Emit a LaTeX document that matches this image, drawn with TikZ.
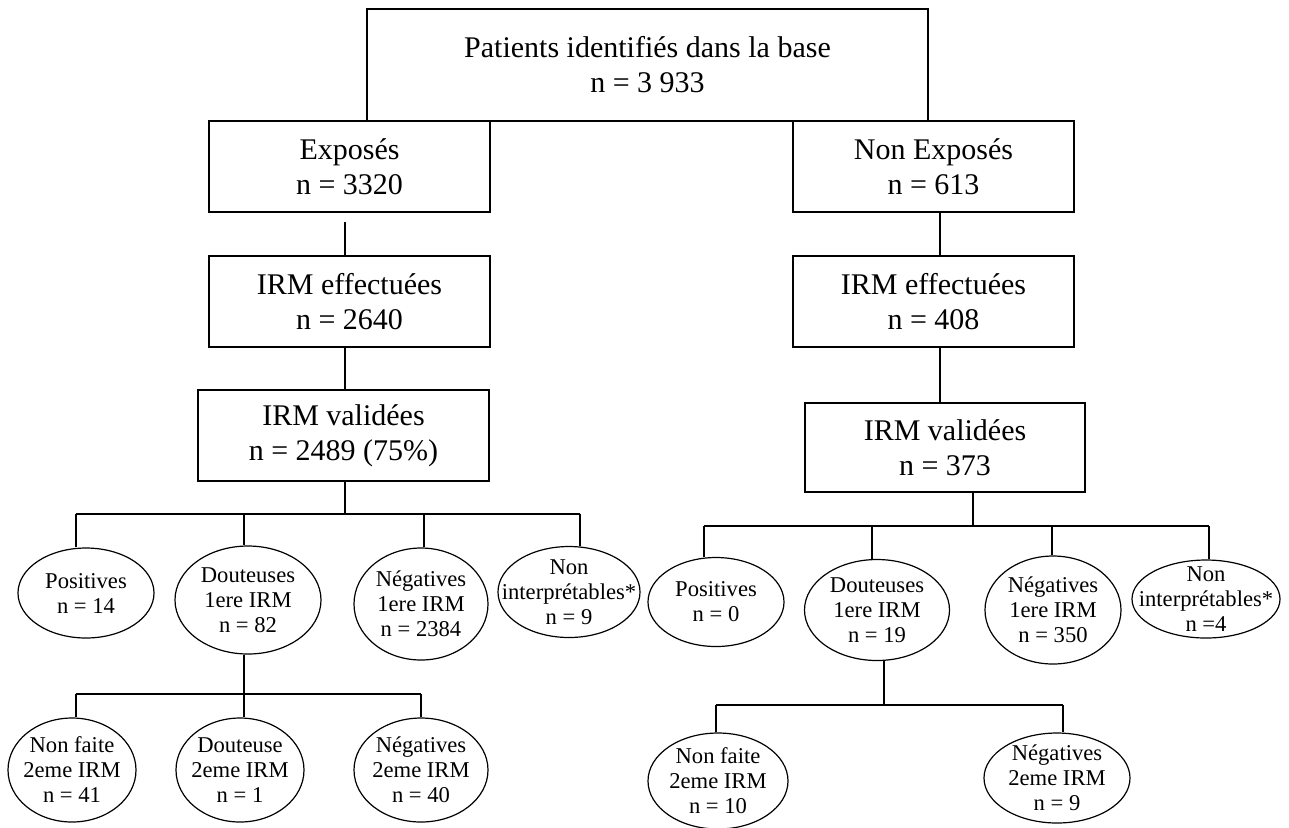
\documentclass[tikz,border=0pt]{standalone}
\usepackage{fontspec}
\setmainfont{Liberation Serif}
\usetikzlibrary{shapes.geometric}

\begin{document}
\begin{tikzpicture}[
    x=0.5pt, y=-0.5pt,
    line width=0.6pt,
    taille/.style 2 args={
      minimum width=#1*0.5pt,
      minimum height=#2*0.5pt
    },
    boite/.style={
      draw,
      rectangle,
      inner sep=0pt,
      align=center,
      taille={281}{91},
      font=\fontsize{15}{17.5}\selectfont
    },
    bulle/.style={
      draw,
      ellipse,
      inner sep=0pt
    },
    texte/.style={
      align=center,
      inner sep=0pt,
      font=\fontsize{11.3}{12.5}\selectfont
    }
  ]
  \useasboundingbox (0,0) rectangle (1289,827);

  % boites
  \node (base) at (647.5,65) [boite,taille={561}{112}] {Patients identifiés dans la base\\n = 3 933};
  \node (expo) at (349.5,166.5) [boite] {Exposés\\n = 3320};
  \node (nonexpo) at (933.5,166.5) [boite] {Non Exposés\\n = 613};
  \node (effL) at (349.5,301.5) [boite] {IRM effectuées\\n = 2640};
  \node (effR) at (933.5,301.5) [boite] {IRM effectuées\\n = 408};
  \node (valL) at (343.5,435.5) [boite,taille={291}{91}] {IRM validées\\n = 2489 (75\%)};
  \node (valR) at (945,447.5) [boite,taille={280}{89}] {IRM validées\\n = 373};

  % exposes
  \node (posL) at (86,593) [bulle,taille={136}{90},label={[texte]center:{Positives\\n = 14}}] {};
  \node (doutL) at (248,600) [bulle,taille={146}{108},label={[texte]center:{Douteuses\\1ere IRM\\n = 82}}] {};
  \node (negL) at (421,604) [bulle,taille={134}{112},label={[texte]center:{Négatives\\1ere IRM\\n = 2384}}] {};
  \node (nintL) at (569,592) [bulle,taille={142}{91},label={[texte]center:{Non\\interprétables*\\n = 9}}] {};
  \node (nfL) at (72,770) [bulle,taille={128}{104},label={[texte]center:{Non faite\\2eme IRM\\n = 41}}] {};
  \node (dout2L) at (240,770) [bulle,taille={128}{104},label={[texte]center:{Douteuse\\2eme IRM\\n = 1}}] {};
  \node (neg2L) at (421,770) [bulle,taille={134}{104},label={[texte]center:{Négatives\\2eme IRM\\n = 40}}] {};

  % non exposes
  \node (posR) at (716,602) [bulle,taille={136}{89},label={[texte]center:{Positives\\n = 0}}] {};
  \node (doutR) at (877,610) [bulle,taille={145}{101},label={[texte]center:{Douteuses\\1ere IRM\\n = 19}}] {};
  \node (negR) at (1053,610) [bulle,taille={136}{108},label={[texte]center:{Négatives\\1ere IRM\\n = 350}}] {};
  \node (nintR) at (1206,599) [bulle,taille={148}{78},label={[texte]center:{Non\\interprétables*\\n =4}}] {};
  \node (nfR) at (718,781) [bulle,taille={140}{96},label={[texte]center:{Non faite\\2eme IRM\\n = 10}}] {};
  \node (neg2R) at (1057,778) [bulle,taille={146}{90},label={[texte]center:{Négatives\\2eme IRM\\n = 9}}] {};

  % points de branchement
  \coordinate (gL) at (345,222);
  \coordinate (gR) at (940,212);
  \coordinate (a1) at (76,514);
  \coordinate (a2) at (244,514);
  \coordinate (a3) at (424,514);
  \coordinate (a4) at (580,514);
  \coordinate (b1) at (76,694);
  \coordinate (b2) at (244,694);
  \coordinate (b3) at (421,694);
  \coordinate (c0) at (973,526);
  \coordinate (c1) at (704,526);
  \coordinate (c2) at (872,526);
  \coordinate (c3) at (1052,526);
  \coordinate (c4) at (1209,526);
  \coordinate (d1) at (716,705);
  \coordinate (d2) at (884,705);
  \coordinate (d3) at (1063,705);

  \draw (gL) -- (gL |- effL.north);
  \draw (effL.south -| gL) -- (valL.north -| gL);
  \draw (valL.south -| gL) -- (gL |- a1);
  \draw (a1) -- (a4);
  \draw (a1) -- (a1 |- posL.north);
  \draw (a2) -- (a2 |- doutL.north);
  \draw (a3) -- (a3 |- negL.north);
  \draw (a4) -- (a4 |- nintL.north);
  \draw (doutL.south -| b2) -- (b2);
  \draw (b1) -- (b3);
  \draw (b1) -- (b1 |- nfL.north);
  \draw (b2) -- (b2 |- dout2L.north);
  \draw (b3) -- (b3 |- neg2L.north);

  \draw (gR) -- (gR |- effR.north);
  \draw (effR.south -| gR) -- (valR.north -| gR);
  \draw (valR.south -| c0) -- (c0);
  \draw (c1) -- (c4);
  \draw (c1) -- (c1 |- posR.north);
  \draw (c2) -- (c2 |- doutR.north);
  \draw (c3) -- (c3 |- negR.north);
  \draw (c4) -- (c4 |- nintR.north);
  \draw (doutR.south -| d2) -- (d2);
  \draw (d1) -- (d3);
  \draw (d1) -- (d1 |- nfR.north);
  \draw (d3) -- (d3 |- neg2R.north);

\end{tikzpicture}
\end{document}
